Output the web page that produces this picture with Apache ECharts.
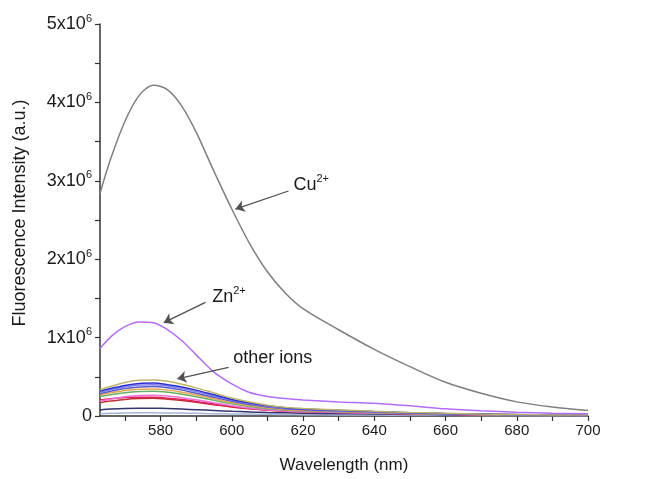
<!DOCTYPE html>
<html>
<head>
<meta charset="utf-8">
<script src="https://cdn.jsdelivr.net/npm/echarts@6/dist/echarts.min.js"></script>
<style>html,body{margin:0;padding:0;background:#fff}#c{width:649px;height:479px}</style>
</head>
<body>
<div id="c"></div>
<script>
// Wavelength (nm)
const wavelengths = [563,566,570,574,578,582,586,590,595,600,605,610,615,620,630,640,650,660,670,680,690,700];
// Intensities in units of 1e6 a.u.
const cu = [2.84,3.28,3.76,4.09,4.22,4.16,3.95,3.62,3.12,2.64,2.20,1.84,1.57,1.37,1.10,0.85,0.63,0.43,0.29,0.18,0.115,0.07];
const zn = [0.86,1.01,1.14,1.20,1.19,1.10,0.96,0.78,0.56,0.41,0.30,0.25,0.222,0.205,0.18,0.162,0.13,0.092,0.066,0.048,0.036,0.03];
const ionKhaki   = [0.335,0.377,0.428,0.455,0.46,0.442,0.405,0.359,0.294,0.23,0.179,0.138,0.11,0.097,0.078,0.06,0.046,0.035,0.025,0.018,0.014,0.012];
const ionBlue    = [0.32,0.35,0.39,0.415,0.42,0.40,0.37,0.33,0.27,0.21,0.165,0.13,0.105,0.09,0.072,0.056,0.043,0.032,0.024,0.018,0.014,0.011];
const ionPeri    = [0.30,0.335,0.372,0.396,0.40,0.384,0.352,0.312,0.256,0.20,0.156,0.122,0.098,0.085,0.068,0.052,0.04,0.03,0.022,0.016,0.012,0.01];
const ionSlate   = [0.285,0.315,0.35,0.37,0.375,0.36,0.33,0.29,0.24,0.188,0.146,0.114,0.092,0.08,0.064,0.05,0.038,0.028,0.021,0.015,0.011,0.009];
const ionOrange  = [0.27,0.295,0.325,0.342,0.345,0.33,0.303,0.268,0.22,0.172,0.134,0.104,0.084,0.074,0.059,0.046,0.035,0.026,0.019,0.014,0.011,0.009];
const ionGreen   = [0.25,0.272,0.298,0.312,0.315,0.302,0.277,0.245,0.20,0.157,0.122,0.095,0.077,0.067,0.054,0.042,0.032,0.024,0.018,0.013,0.01,0.008];
const ionPink    = [0.19,0.215,0.245,0.261,0.265,0.254,0.233,0.206,0.168,0.132,0.103,0.08,0.065,0.057,0.046,0.036,0.028,0.021,0.016,0.012,0.009,0.007];
const ionCrimson = [0.205,0.22,0.235,0.24,0.238,0.228,0.21,0.186,0.152,0.12,0.095,0.076,0.064,0.057,0.047,0.038,0.03,0.023,0.018,0.014,0.011,0.009];
const ionDarkRed = [0.17,0.19,0.212,0.223,0.225,0.215,0.198,0.176,0.145,0.115,0.092,0.074,0.062,0.055,0.046,0.037,0.029,0.022,0.017,0.013,0.01,0.008];
const ionNavy    = [0.078,0.088,0.097,0.10,0.099,0.095,0.088,0.08,0.07,0.06,0.052,0.045,0.04,0.036,0.03,0.025,0.02,0.016,0.012,0.01,0.008,0.006];
const ionLight   = [0.03,0.034,0.038,0.04,0.04,0.039,0.037,0.034,0.03,0.027,0.024,0.021,0.019,0.017,0.014,0.012,0.01,0.008,0.006,0.005,0.004,0.003];

const otherIons = [
  {name:'khaki', data:ionKhaki, color:'#bdb56a'},
  {name:'blue', data:ionBlue, color:'#2e2ed0'},
  {name:'periwinkle', data:ionPeri, color:'#8080ee'},
  {name:'slate', data:ionSlate, color:'#5a5ac8'},
  {name:'orange', data:ionOrange, color:'#e8a850'},
  {name:'green', data:ionGreen, color:'#68b068'},
  {name:'pink', data:ionPink, color:'#f070d8'},
  {name:'crimson', data:ionCrimson, color:'#e0205a'},
  {name:'darkred', data:ionDarkRed, color:'#c03030'},
  {name:'navy', data:ionNavy, color:'#35356e'},
  {name:'light', data:ionLight, color:'#a8b4d8'}
];

const xTicks = [570,580,590,600,610,620,630,640,650,660,670,680,690,700];
const xLabels = [580,600,620,640,660,680,700];
const yTicks = [0,0.5,1,1.5,2,2.5,3,3.5,4,4.5,5];
const yLabels = [0,1,2,3,4,5];

// annotation: [arrowStartX, arrowStartY, arrowEndX, arrowEndY, labelX, labelY]
const cuNote = [615.9,2.87,601.0,2.64,617.3,2.95];
const znNote = [592.6,1.45,580.9,1.19,594.5,1.515];
const otherNote = [599.1,0.62,584.7,0.475,600.4,0.736];

const pair = a => wavelengths.map((w,i)=>[w,a[i]]);
const arrow = n => [{coord:[n[0],n[1]]},{coord:[n[2],n[3]]}];

const chart = echarts.init(document.getElementById('c'));
const txt = '#1a1a1a';
const font = 'Liberation Sans';
const series = [];
otherIons.slice().reverse().forEach(s=>{
  series.push({type:'line', name:s.name, data:pair(s.data), showSymbol:false, smooth:0.3,
    lineStyle:{color:s.color, width:1.5}, silent:true});
});
series.push({type:'line', name:'Zn', data:pair(zn), showSymbol:false, smooth:0.3,
  lineStyle:{color:'#b46cff', width:1.5}, silent:true});
series.push({type:'line', name:'Cu', data:pair(cu), showSymbol:false, smooth:0.3,
  lineStyle:{color:'#7f7f7f', width:1.5}, silent:true,
  markLine:{silent:true, symbol:['none','arrow'], symbolSize:9,
    lineStyle:{color:'#505050', width:1.3, type:'solid'},
    itemStyle:{color:'#404040'}, label:{show:false},
    data:[arrow(cuNote), arrow(znNote), arrow(otherNote)]}});

chart.setOption({
  animation:false,
  backgroundColor:'#fff',
  grid:{left:100, right:61, top:24, bottom:59},
  xAxis:{type:'value', min:563, max:700,
    name:'Wavelength (nm)', nameLocation:'middle', nameGap:41,
    nameTextStyle:{color:txt, fontSize:17, fontFamily:font},
    axisLine:{lineStyle:{color:'#333', width:1.5}},
    axisTick:{customValues:xTicks, length:5, lineStyle:{color:'#333', width:1.2}},
    axisLabel:{customValues:xLabels, color:txt, fontSize:15, fontFamily:font, margin:7},
    splitLine:{show:false}},
  yAxis:{type:'value', min:0, max:5,
    name:'Fluorescence Intensity (a.u.)', nameLocation:'middle', nameGap:71, nameRotate:90,
    nameTextStyle:{color:txt, fontSize:18, fontFamily:font, padding:[0,0,0,14]},
    axisLine:{show:true, lineStyle:{color:'#333', width:1.5}},
    axisTick:{show:true, customValues:yTicks, length:5, lineStyle:{color:'#333', width:1.2}},
    axisLabel:{customValues:yLabels, color:txt, fontSize:18, fontFamily:font, margin:8,
      formatter:v => v===0 ? '0' : v+'x10{s|6}',
      rich:{s:{fontSize:11, color:txt, fontFamily:font, padding:[0,0,11,0]}}},
    splitLine:{show:false}},
  series:series
});

function noteText(n, main, sup){
  const p = chart.convertToPixel({gridIndex:0}, [n[4], n[5]]);
  return {type:'text', x:p[0], y:p[1], style:{
    text: sup ? main+'{s|'+sup+'}' : main,
    verticalAlign:'middle', align:'left',
    fill:txt, fontSize:18, fontFamily:font,
    rich:{s:{fontSize:11, fill:txt, fontFamily:font, padding:[0,0,12,0]}}
  }};
}
chart.setOption({graphic:[
  noteText(cuNote,'Cu','2+'),
  noteText(znNote,'Zn','2+'),
  noteText(otherNote,'other ions',null)
]});
</script>
</body>
</html>
